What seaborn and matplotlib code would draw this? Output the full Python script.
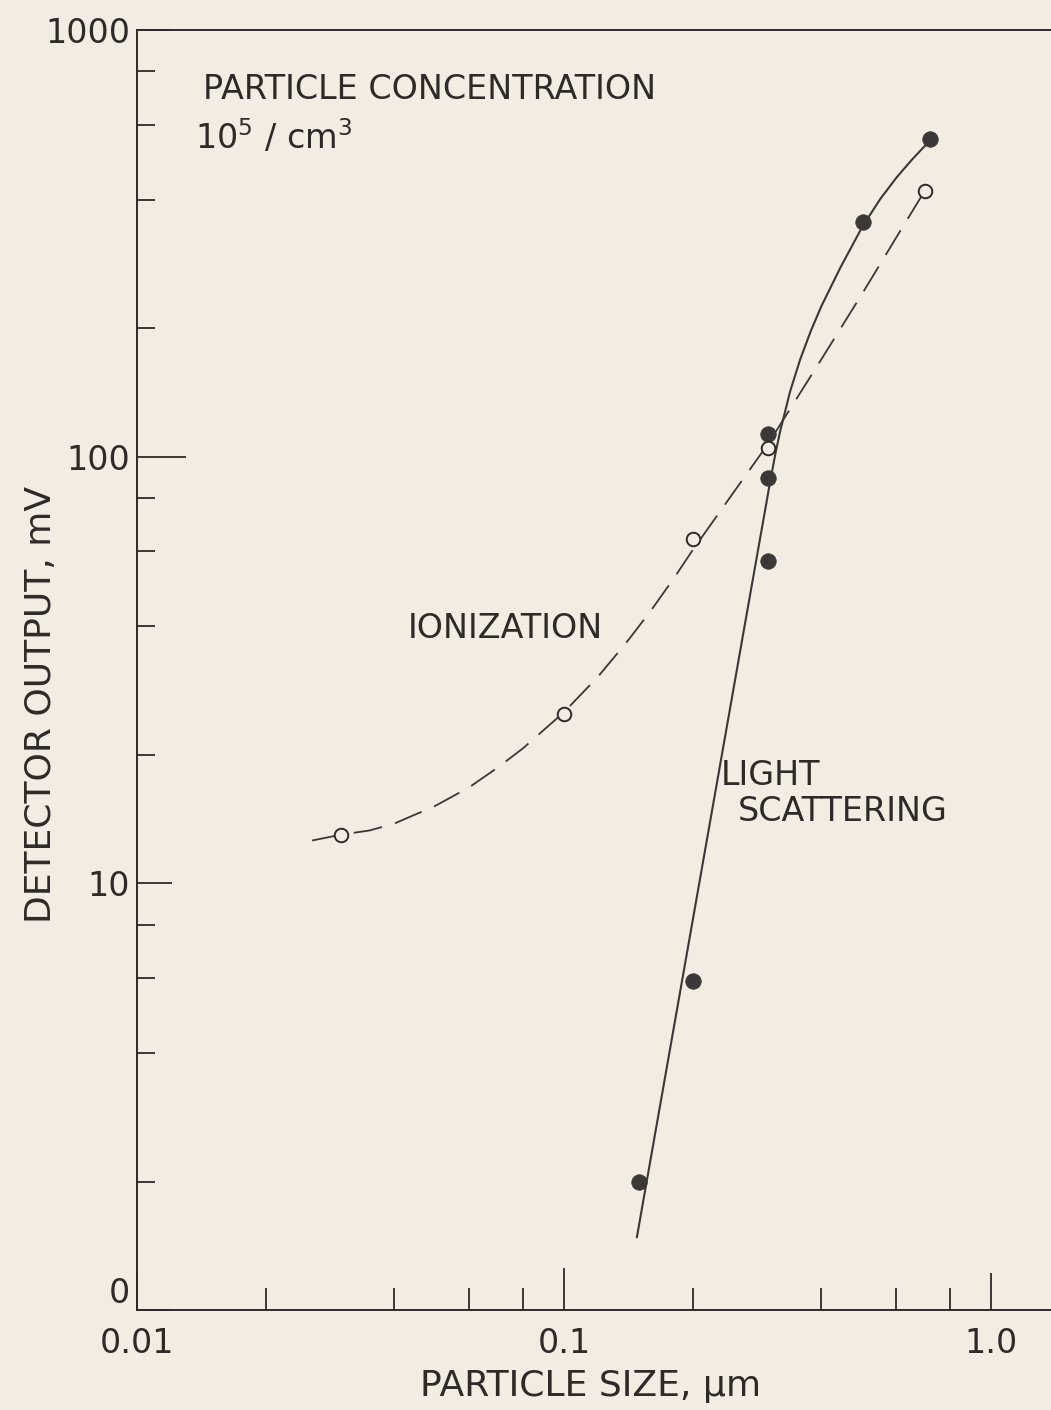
import matplotlib
matplotlib.use("Agg")
import matplotlib.pyplot as plt
from matplotlib.ticker import FixedLocator, FixedFormatter, NullFormatter
import seaborn as sns

# measured points (particle size in um, detector output in mV)
ion_size = [0.03, 0.1, 0.2, 0.3, 0.7]
ion_output = [13, 25, 64, 105, 420]
ls_size = [0.15, 0.2, 0.3, 0.3, 0.3, 0.5, 0.72]
ls_output = [2.0, 5.9, 57, 89, 113, 355, 555]

# hand drawn curves
ion_curve_size = [0.0257, 0.03, 0.035, 0.04, 0.05, 0.06, 0.07, 0.08, 0.1, 0.12,
                  0.14, 0.16, 0.18, 0.2, 0.25, 0.3, 0.4, 0.5, 0.6, 0.7]
ion_curve_output = [12.6, 13.0, 13.3, 13.8, 15.2, 16.8, 18.7, 20.7, 25.2, 30.5,
                    36.7, 43.7, 51.6, 60.4, 82.8, 107, 169, 242, 327, 421]
ls_curve_size = [0.148, 0.212, 0.265, 0.304, 0.312, 0.32, 0.338, 0.357, 0.378,
                 0.40, 0.443, 0.50, 0.55, 0.60, 0.65, 0.72]
ls_curve_output = [1.48, 11.4, 40.5, 88, 101, 114, 142, 169, 197,
                   225, 277, 347, 402, 451, 495, 552]

x_major = [0.01, 0.1, 1.0]
x_major_labels = ["0.01", "0.1", "1.0"]
x_minor = [0.02, 0.04, 0.06, 0.08, 0.2, 0.4, 0.6, 0.8]
y_major = [1, 10, 100, 1000]
y_major_labels = ["0", "10", "100", "1000"]
y_minor = [2, 4, 6, 8, 20, 40, 60, 80, 200, 400, 600, 800]

BG = "#f3ece3"
INK = "#2e2a28"
LINE = "#3b3735"

sns.set_theme(style="ticks")
plt.rcParams["font.family"] = ["DejaVu Sans"]
plt.rcParams["text.color"] = INK
plt.rcParams["axes.labelcolor"] = INK

fig = plt.figure(figsize=(10.51, 14.10), dpi=100, facecolor=BG)
ax = fig.add_axes([137 / 1051, 1 - 1310 / 1410, 914 / 1051, 1280 / 1410])
ax.set_facecolor(BG)
ax.set_xscale("log")
ax.set_yscale("log")

# curves
sns.lineplot(x=ion_curve_size, y=ion_curve_output, sort=False, estimator=None,
             color=LINE, lw=1.3, linestyle=(0, (16, 7.5)), ax=ax, zorder=2)
sns.lineplot(x=ls_curve_size, y=ls_curve_output, sort=False, estimator=None,
             color=LINE, lw=1.5, ax=ax, zorder=2)

# points
sns.scatterplot(x=ls_size, y=ls_output, s=125, color="#3c3837", edgecolor="#3c3837",
                linewidth=0.5, ax=ax, zorder=3)
sns.scatterplot(x=ion_size, y=ion_output, s=95, color=BG, edgecolor=INK,
                linewidth=1.4, ax=ax, zorder=4)

ax.set_xlim(0.01, 1.38)
ax.set_ylim(1, 1000)

ax.xaxis.set_major_locator(FixedLocator(x_major))
ax.xaxis.set_major_formatter(FixedFormatter(x_major_labels))
ax.xaxis.set_minor_locator(FixedLocator(x_minor))
ax.xaxis.set_minor_formatter(NullFormatter())
ax.yaxis.set_major_locator(FixedLocator(y_major))
ax.yaxis.set_major_formatter(FixedFormatter(y_major_labels))
ax.yaxis.set_minor_locator(FixedLocator(y_minor))
ax.yaxis.set_minor_formatter(NullFormatter())

ax.tick_params(which="both", direction="in", color=INK, width=1.3,
               labelsize=24, labelcolor=INK, top=False, right=False)
ax.tick_params(axis="x", which="major", length=27, pad=12)
ax.tick_params(axis="x", which="minor", length=16)
ax.tick_params(axis="y", which="major", length=25, pad=5)
ax.tick_params(axis="y", which="minor", length=13)
# the 100 tick and the 0.1 tick are drawn longer than the others
ax.yaxis.get_major_ticks()[2].tick1line.set_markersize(35)
ax.xaxis.get_major_ticks()[1].tick1line.set_markersize(30)
# the lowest y label sits a little above the axis line
ax.yaxis.get_major_ticks()[0].label1.set_va("bottom")

for side in ["left", "bottom", "top"]:
    ax.spines[side].set_color(INK)
    ax.spines[side].set_linewidth(1.4)
ax.spines["right"].set_visible(False)

ax.set_ylabel("DETECTOR OUTPUT, mV", fontsize=26)
ax.yaxis.set_label_coords(-0.086, 0.473)
ax.set_xlabel("PARTICLE SIZE, μm", fontsize=26)
ax.xaxis.set_label_coords(0.496, -0.046)

ax.text(0.01428, 727, "PARTICLE CONCENTRATION", fontsize=24, va="center", ha="left")
ax.text(0.01367, 526, "10$^{5}$ / cm$^{3}$", fontsize=24, va="baseline", ha="left")
ax.text(0.0431, 39.6, "IONIZATION", fontsize=24, va="center", ha="left")
ax.text(0.2332, 17.9, "LIGHT", fontsize=24, va="center", ha="left")
ax.text(0.2556, 14.7, "SCATTERING", fontsize=24, va="center", ha="left")

fig.savefig("out.png", dpi=100, facecolor=BG)
